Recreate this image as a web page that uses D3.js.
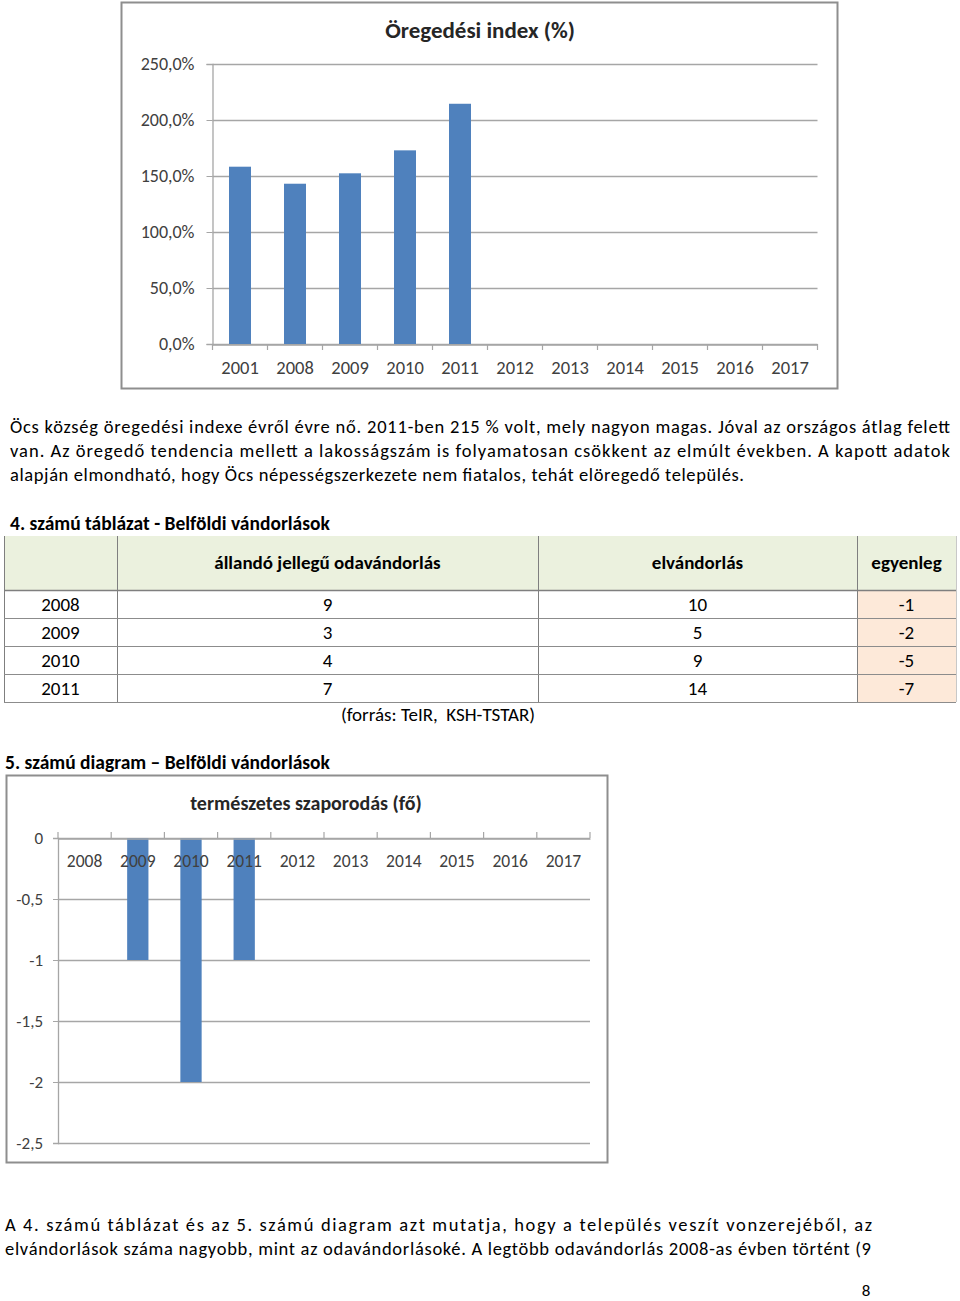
<!DOCTYPE html>
<html><head><meta charset="utf-8">
<script src="https://cdn.jsdelivr.net/npm/d3@7"></script>
<style>
html,body{margin:0;padding:0;background:#fff;}
svg{display:block;font-family:Carlito,Lato,"Open Sans",sans-serif;}
text{white-space:pre;}
</style></head>
<body>
<svg id="page" width="960" height="1301"></svg>
<script>
// ---------- DATA ----------
const years1 = ["2001","2008","2009","2010","2011","2012","2013","2014","2015","2016","2017"];
const agingIndex = [158.3,143.1,152.4,172.9,214.5,null,null,null,null,null,null];
const yTicks1 = [0,50,100,150,200,250];

const years2 = ["2008","2009","2010","2011","2012","2013","2014","2015","2016","2017"];
const naturalIncrease = [0,-1,-2,-1,null,null,null,null,null,null];
const yTicks2 = [0,-0.5,-1,-1.5,-2,-2.5];

const tableYears = ["2008","2009","2010","2011"];
const inMigration = [9,3,4,7];
const outMigration = [10,5,9,14];
const balance = [-1,-2,-5,-7];
const tableHeaders = ["","állandó jellegű odavándorlás","elvándorlás","egyenleg"];

const para1 = [
 "Öcs község öregedési indexe évről évre nő. 2011-ben 215 % volt, mely nagyon magas. Jóval az országos átlag felett",
 "van. Az öregedő tendencia mellett a lakosságszám is folyamatosan csökkent az elmúlt években. A kapott adatok",
 "alapján elmondható, hogy Öcs népességszerkezete nem fiatalos, tehát elöregedő település."
];
const para2 = [
 "A 4. számú táblázat és az 5. számú diagram azt mutatja, hogy a település veszít vonzerejéből, az",
 "elvándorlások száma nagyobb, mint az odavándorlásoké. A legtöbb odavándorlás 2008-as évben történt (9"
];

// ---------- STYLE ----------
const BAR = "#4f81bd", GRID = "#a6a6a6", FRAME = "#8e8e8e", TXT = "#000", AX = "#404040";
const FONT = "Carlito,Lato,sans-serif";
const svg = d3.select("#page");
const fmtPct = d => d.toFixed(1).replace(".", ",") + "%";
const fmtNum = d => String(d).replace(".", ",");

// ---------- CHART 1 ----------
(function(){
  const g = svg.append("g");
  g.append("rect").attr("x",121.5).attr("y",2.5).attr("width",716).attr("height",386)
    .attr("fill","#fff").attr("stroke",FRAME).attr("stroke-width",2);
  g.append("text").attr("x",480).attr("y",38).attr("text-anchor","middle")
    .attr("font-weight","bold").attr("font-size",23).attr("fill","#262626").text("Öregedési index (%)");
  const x = d3.scaleBand().domain(years1).range([212.5,817.5]).paddingInner(0.6).paddingOuter(0.3);
  const xb = d3.scaleBand().domain(years1).range([212.5,817.5]);
  const y = d3.scaleLinear().domain([0,250]).range([344,64]);
  g.append("g").selectAll("line").data(yTicks1).join("line")
    .attr("x1",212.5).attr("x2",817.5).attr("y1",d=>Math.round(y(d))+0.5).attr("y2",d=>Math.round(y(d))+0.5)
    .attr("stroke",GRID).attr("stroke-width",1.3);
  const ya = g.append("g").attr("transform","translate(212.5,0)")
    .call(d3.axisLeft(y).tickValues(yTicks1).tickFormat(fmtPct).tickSize(6).tickPadding(12));
  ya.select(".domain").attr("stroke",GRID).attr("stroke-width",1.3);
  ya.selectAll(".tick line").attr("stroke",GRID);
  ya.selectAll("text").attr("font-size",18).attr("fill",AX).attr("font-family",FONT);
  g.append("g").selectAll("rect").data(years1.map((k,i)=>({k,v:agingIndex[i]})).filter(d=>d.v!=null)).join("rect")
    .attr("x",d=>x(d.k)).attr("width",x.bandwidth()).attr("y",d=>y(d.v)).attr("height",d=>y(0)-y(d.v)).attr("fill",BAR);
  const xa = g.append("g").attr("transform","translate(0,344.5)")
    .call(d3.axisBottom(xb).tickSize(0).tickPadding(16));
  xa.select(".domain").attr("stroke",GRID).attr("stroke-width",1.3);
  xa.selectAll("text").attr("font-size",18.5).attr("fill",AX).attr("font-family",FONT);
  g.append("g").selectAll("line").data(d3.range(years1.length+1)).join("line")
    .attr("x1",i=>212.5+i*xb.step()).attr("x2",i=>212.5+i*xb.step()).attr("y1",344).attr("y2",350)
    .attr("stroke",GRID).attr("stroke-width",1.2);
})();

// ---------- TEXT BLOCKS ----------
function justified(lines, x0, y0, lh, widths, size){
  lines.forEach((t,i)=>{
    const el = svg.append("text").attr("x",x0).attr("y",y0+i*lh).attr("font-size",size).attr("fill",TXT).text(t);
    if(widths[i]) el.attr("textLength",widths[i]).attr("lengthAdjust","spacing");
  });
}
justified(para1, 10, 433, 24, [940,940,734], 18.5);
svg.append("text").attr("x",10).attr("y",530).attr("font-size",19.5).attr("font-weight","bold").text("4. számú táblázat - Belföldi vándorlások");

// ---------- TABLE ----------
(function(){
  const cols = [4,117,538,857,956];
  const headTop = 536, headBot = 590;
  const rowY = d3.scaleBand().domain(tableYears).range([590,702]);
  const g = svg.append("g");
  g.append("rect").attr("x",cols[0]).attr("y",headTop).attr("width",cols[4]-cols[0]).attr("height",headBot-headTop).attr("fill","#ebf1de");
  tableYears.forEach(yr=>{
    g.append("rect").attr("x",cols[3]).attr("y",rowY(yr)).attr("width",cols[4]-cols[3]).attr("height",rowY.bandwidth()).attr("fill","#fde9d9");
  });
  cols.forEach((c,i)=>{
    g.append("line").attr("x1",c+0.5).attr("x2",c+0.5).attr("y1",headTop).attr("y2",702)
      .attr("stroke", i===4 ? "#c8c8c8" : "#7f7f7f").attr("stroke-width",1);
  });
  g.append("line").attr("x1",4).attr("x2",956).attr("y1",headBot+0.5).attr("y2",headBot+0.5).attr("stroke","#7f7f7f").attr("stroke-width",1.5);
  tableYears.forEach(yr=>{
    const yy = rowY(yr)+rowY.bandwidth();
    g.append("line").attr("x1",4).attr("x2",956).attr("y1",yy+0.5).attr("y2",yy+0.5).attr("stroke","#8c8c8c").attr("stroke-width",1);
  });
  tableHeaders.forEach((h,i)=>{
    if(!h) return;
    g.append("text").attr("x",(cols[i]+cols[i+1])/2).attr("y",569).attr("text-anchor","middle")
      .attr("font-size",19).attr("font-weight","bold").text(h);
  });
  const rows = tableYears.map((yr,i)=>[yr,inMigration[i],outMigration[i],balance[i]]);
  rows.forEach((r,ri)=>{
    r.forEach((v,ci)=>{
      g.append("text").attr("x",(cols[ci]+cols[ci+1])/2).attr("y",rowY(tableYears[ri])+rowY.bandwidth()/2+7)
        .attr("text-anchor","middle").attr("font-size",19).text(v);
    });
  });
  g.append("text").attr("x",438).attr("y",721).attr("text-anchor","middle").attr("font-size",19).text("(forrás: TeIR,  KSH-TSTAR)");
})();

svg.append("text").attr("x",5).attr("y",769).attr("font-size",19.5).attr("font-weight","bold").text("5. számú diagram – Belföldi vándorlások");

// ---------- CHART 2 ----------
(function(){
  const g = svg.append("g");
  g.append("rect").attr("x",6.5).attr("y",775.5).attr("width",601).attr("height",387)
    .attr("fill","#fff").attr("stroke",FRAME).attr("stroke-width",2);
  g.append("text").attr("x",306).attr("y",810).attr("text-anchor","middle")
    .attr("font-weight","bold").attr("font-size",20).attr("fill","#262626").text("természetes szaporodás (fő)");
  const x0 = 58, x1 = 590;
  const x = d3.scaleBand().domain(years2).range([x0,x1]).paddingInner(0.6).paddingOuter(0.3);
  const xb = d3.scaleBand().domain(years2).range([x0,x1]);
  const y = d3.scaleLinear().domain([0,-2.5]).range([838,1143]);
  g.append("g").selectAll("line").data(yTicks2).join("line")
    .attr("x1",x0).attr("x2",x1).attr("y1",d=>Math.round(y(d))+0.5).attr("y2",d=>Math.round(y(d))+0.5)
    .attr("stroke",GRID).attr("stroke-width",1.3);
  const ya = g.append("g").attr("transform",`translate(${x0},0)`)
    .call(d3.axisLeft(y).tickValues(yTicks2).tickFormat(fmtNum).tickSize(5).tickPadding(10));
  ya.select(".domain").attr("stroke",GRID).attr("stroke-width",1.3);
  ya.selectAll(".tick line").attr("stroke",GRID);
  ya.selectAll("text").attr("font-size",17).attr("fill",AX).attr("font-family",FONT);
  g.append("g").selectAll("rect").data(years2.map((k,i)=>({k,v:naturalIncrease[i]})).filter(d=>d.v!=null && d.v!==0)).join("rect")
    .attr("x",d=>x(d.k)).attr("width",x.bandwidth()).attr("y",y(0)).attr("height",d=>y(d.v)-y(0)).attr("fill",BAR);
  const xa = g.append("g").attr("transform","translate(0,838.5)")
    .call(d3.axisBottom(xb).tickSize(0).tickPadding(16));
  xa.select(".domain").attr("stroke",GRID).attr("stroke-width",1.3);
  xa.selectAll("text").attr("font-size",17.5).attr("fill",AX).attr("font-family",FONT);
  g.append("g").selectAll("line").data(d3.range(years2.length+1)).join("line")
    .attr("x1",i=>x0+i*xb.step()).attr("x2",i=>x0+i*xb.step()).attr("y1",832).attr("y2",838)
    .attr("stroke",GRID).attr("stroke-width",1.2);
})();

justified(para2, 5, 1231, 24, [867,866], 18.5);
svg.append("text").attr("x",866).attr("y",1296).attr("text-anchor","middle").attr("font-size",17).text("8");
</script>
</body></html>
